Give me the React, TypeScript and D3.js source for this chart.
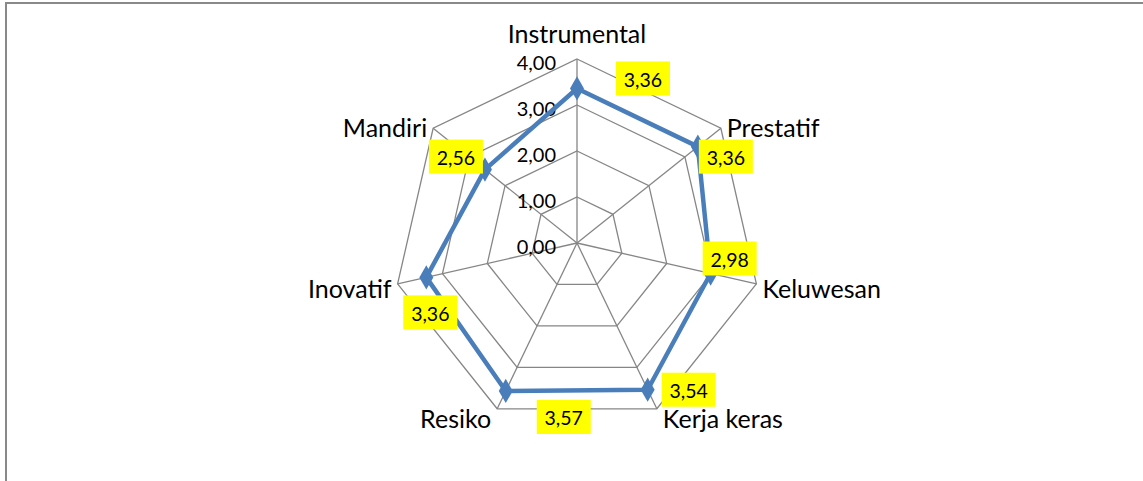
import React from 'react';
import * as d3 from 'd3';

const categories = ['Instrumental', 'Prestatif', 'Keluwesan', 'Kerja keras', 'Resiko', 'Inovatif', 'Mandiri'];
const values = [3.36, 3.36, 2.98, 3.54, 3.57, 3.36, 2.56];
const tickValues = [0, 1, 2, 3, 4];

// data label box offsets (excel places them a bit off the point)
const labelOffsets = [[66, -10], [28, 10], [19, -15], [41, 0], [58, 26], [4, 35], [-29, -13]];

const W = 1143;
const H = 481;
const cx = 577;
const cy = 243;
const FONT = 'Lato, "Open Sans", sans-serif';

export default function App() {
  const r = d3.scaleLinear().domain([0, 4]).range([0, 184]);
  const n = categories.length;
  const angle = (i: number) => (i * 2 * Math.PI) / n;
  const pt = (i: number, v: number): [number, number] => [
    cx + r(v) * Math.sin(angle(i)),
    cy - r(v) * Math.cos(angle(i)),
  ];

  const radial = d3.lineRadial<number>()
    .angle((_, i) => angle(i))
    .curve(d3.curveLinearClosed);

  const fmt = (v: number) => v.toFixed(2).replace('.', ',');
  const diamond = d3.symbol(d3.symbolDiamond, 170)();

  return (
    <svg width={W} height={H} style={{ position: 'absolute', left: 0, top: 0 }} fontFamily={FONT}>
      <rect x={0} y={0} width={W} height={H} fill="#fff" />
      <path d={`M6,${H + 2}V3H${W + 2}`} fill="none" stroke="#898989" strokeWidth={2} />

      <g transform={`translate(${cx},${cy})`}>
        {tickValues.slice(1).map(t => (
          <path key={t} d={radial.radius(() => r(t))(categories.map(() => 0)) || ''}
            fill="none" stroke="#868686" strokeWidth={1.3} />
        ))}
      </g>
      {categories.map((c, i) => {
        const [x, y] = pt(i, 4);
        return <line key={c} x1={cx} y1={cy} x2={x} y2={y} stroke="#868686" strokeWidth={1.3} />;
      })}

      {tickValues.map(t => (
        <text key={t} x={cx - 21} y={cy - r(t) + 3} textAnchor="end" dominantBaseline="central"
          fontSize={20} fill="#000">{fmt(t)}</text>
      ))}

      <path d={(d3.line().curve(d3.curveLinearClosed))(values.map((v, i) => pt(i, v))) || ''}
        fill="none" stroke="#4a7ebb" strokeWidth={4.5} strokeLinejoin="round" />
      {values.map((v, i) => {
        const [x, y] = pt(i, v);
        return <path key={i} d={diamond || ''} transform={`translate(${x},${y})`} fill="#4a7ebb" />;
      })}

      {values.map((v, i) => {
        const [x, y] = pt(i, v);
        const bx = x + labelOffsets[i][0];
        const by = y + labelOffsets[i][1];
        return (
          <g key={i}>
            <rect x={bx - 27} y={by - 17} width={54} height={34} fill="#ffff00" />
            <text x={bx} y={by + 1} textAnchor="middle" dominantBaseline="central" fontSize={19.5} fill="#000">{fmt(v)}</text>
          </g>
        );
      })}

      {categories.map((c, i) => {
        const [x, y] = pt(i, 4);
        const s = Math.sin(angle(i));
        const cs = Math.cos(angle(i));
        const anchor = s > 0.1 ? 'start' : s < -0.1 ? 'end' : 'middle';
        const lx = x + (s > 0.1 ? 6 : s < -0.1 ? -6 : 0);
        const ly = cs > 0.9 ? y - 26 : cs < -0.5 ? y + 9 : y + (cs > 0 ? -1 : 4);
        return (
          <text key={c} x={lx} y={ly} textAnchor={anchor} dominantBaseline="central" fontSize={25} fill="#000">{c}</text>
        );
      })}
    </svg>
  );
}
